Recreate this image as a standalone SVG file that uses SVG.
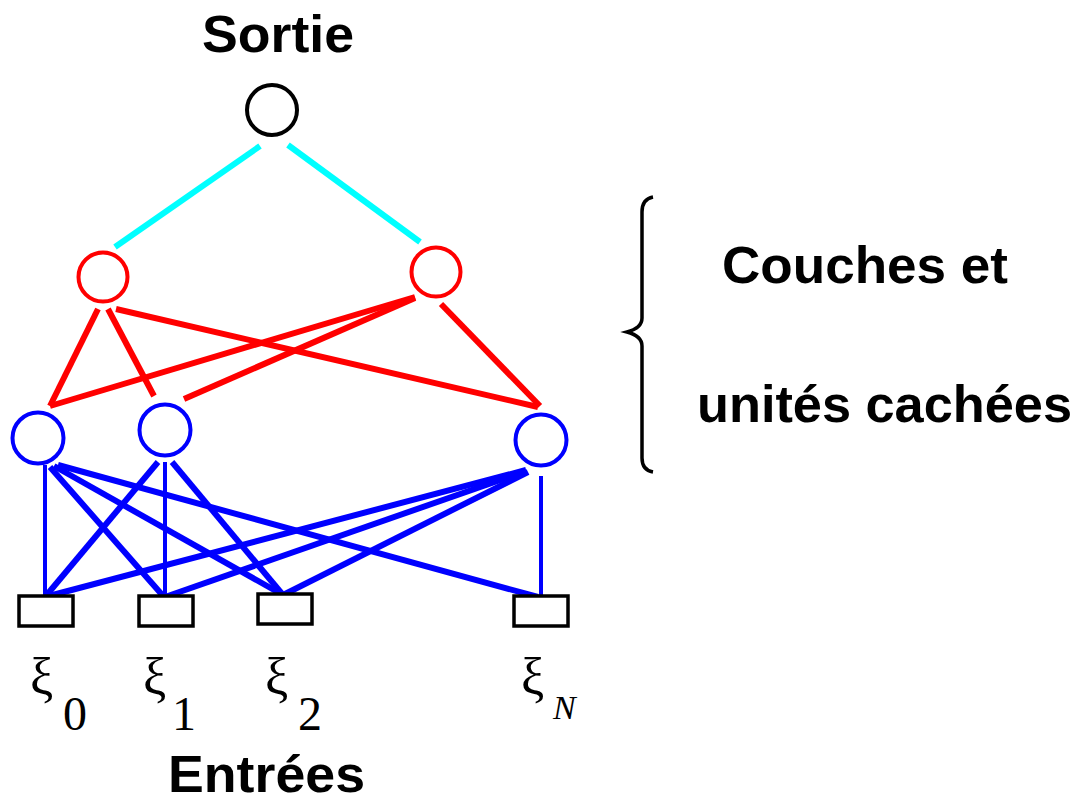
<svg xmlns="http://www.w3.org/2000/svg" width="1079" height="803" viewBox="0 0 1079 803">
  <style>
    .label { font-family: "Liberation Sans", Arial, sans-serif; font-weight: bold; font-size: 52px; fill: #000; }
    .greek { font-family: "Liberation Serif", "Times New Roman", serif; font-size: 52px; fill: #000; }
    .sub { font-family: "Liberation Serif", "Times New Roman", serif; font-size: 48px; fill: #000; }
    .subN { font-family: "Liberation Serif", "Times New Roman", serif; font-style: italic; font-size: 34px; fill: #000; }
    .out { fill: #fff; stroke: #000; stroke-width: 4; }
    .hid2 { fill: #fff; stroke: #ff0000; stroke-width: 4; }
    .hid1 { fill: #fff; stroke: #0000ff; stroke-width: 4; }
    .inp { fill: #fff; stroke: #000; stroke-width: 3.5; }
    .cyan { stroke: #00ffff; stroke-width: 6; }
    .red { stroke: #ff0000; stroke-width: 6; }
    .blue { stroke: #0000ff; stroke-width: 6; }
    .blue-v { stroke: #0000ff; stroke-width: 4; }
  </style>

  <rect width="1079" height="803" fill="#fff"/>

  <!-- connectors -->
  <g id="connectors" fill="none">
    <!-- output to second hidden layer -->
    <line class="cyan" x1="260" y1="146" x2="115" y2="247"/>
    <line class="cyan" x1="288" y1="145" x2="420" y2="242"/>
    <!-- second hidden layer to first hidden layer -->
    <line class="red" x1="98" y1="309" x2="50" y2="406"/>
    <line class="red" x1="108" y1="309" x2="154" y2="396"/>
    <line class="red" x1="116" y1="309" x2="538" y2="407"/>
    <line class="red" x1="415" y1="297" x2="50" y2="406"/>
    <line class="red" x1="415" y1="298" x2="184" y2="399"/>
    <line class="red" x1="441" y1="304" x2="540" y2="406"/>
    <!-- first hidden layer to inputs -->
    <line class="blue-v" x1="45" y1="465" x2="45" y2="597"/>
    <line class="blue" x1="50" y1="467" x2="164" y2="597"/>
    <line class="blue" x1="54" y1="466" x2="283" y2="595"/>
    <line class="blue" x1="58" y1="465" x2="538" y2="597"/>
    <line class="blue" x1="158" y1="462" x2="45" y2="597"/>
    <line class="blue-v" x1="165" y1="462" x2="165" y2="597"/>
    <line class="blue" x1="172" y1="462" x2="283" y2="595"/>
    <line class="blue" x1="526" y1="470" x2="45" y2="597"/>
    <line class="blue" x1="526" y1="471" x2="165" y2="597"/>
    <line class="blue" x1="528" y1="472" x2="283" y2="595"/>
    <line class="blue-v" x1="541" y1="476" x2="541" y2="597"/>
  </g>

  <!-- output unit -->
  <g id="output">
    <circle class="out" cx="272" cy="110" r="25"/>
    <text class="label" x="278" y="52" text-anchor="middle" textLength="152" lengthAdjust="spacingAndGlyphs">Sortie</text>
  </g>

  <!-- second hidden layer -->
  <g id="h2-a"><circle class="hid2" cx="103" cy="277" r="24.5"/></g>
  <g id="h2-b"><circle class="hid2" cx="436" cy="272" r="24.5"/></g>

  <!-- first hidden layer -->
  <g id="h1-a"><circle class="hid1" cx="38" cy="438" r="25.5"/></g>
  <g id="h1-b"><circle class="hid1" cx="165" cy="430" r="25.5"/></g>
  <g id="h1-n"><circle class="hid1" cx="541" cy="440" r="25.5"/></g>

  <!-- input units -->
  <g id="in-0">
    <rect class="inp" x="19" y="596" width="54" height="30"/>
    <text class="greek" x="30" y="694">ξ</text>
    <text class="sub" x="63" y="730">0</text>
  </g>
  <g id="in-1">
    <rect class="inp" x="139" y="596" width="54" height="30"/>
    <text class="greek" x="143" y="694">ξ</text>
    <text class="sub" x="172" y="730">1</text>
  </g>
  <g id="in-2">
    <rect class="inp" x="258" y="594" width="54" height="30"/>
    <text class="greek" x="265" y="694">ξ</text>
    <text class="sub" x="298" y="730">2</text>
  </g>
  <g id="in-n">
    <rect class="inp" x="514" y="596" width="54" height="30"/>
    <text class="greek" x="521" y="694">ξ</text>
    <text class="subN" x="553" y="719">N</text>
  </g>

  <!-- hidden-layer brace and caption -->
  <g id="hidden-caption">
    <path d="M653,197 Q642,199 642,212 L642,318 Q642,328 627,332 Q642,336 642,346 L642,458 Q642,470 653,472" fill="none" stroke="#000" stroke-width="3.5"/>
    <text class="label" x="722" y="283" textLength="286" lengthAdjust="spacingAndGlyphs">Couches et</text>
    <text class="label" x="697" y="422" textLength="375" lengthAdjust="spacingAndGlyphs">unités cachées</text>
  </g>

  <g id="inputs-caption">
    <text class="label" x="168" y="792" font-size="47" textLength="197" lengthAdjust="spacingAndGlyphs">Entrées</text>
  </g>
</svg>
